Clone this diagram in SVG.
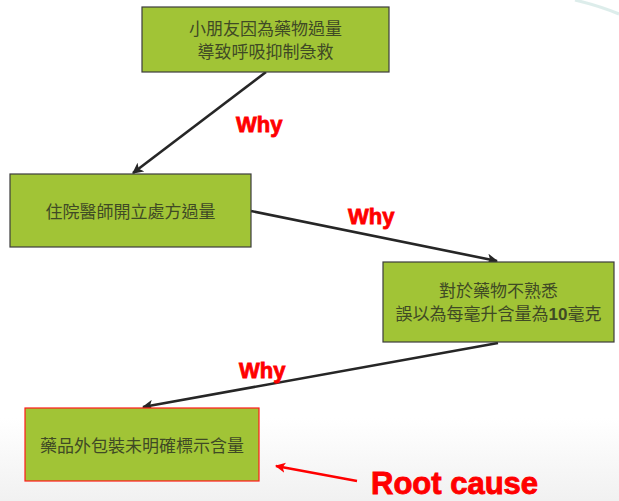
<svg xmlns="http://www.w3.org/2000/svg" width="619" height="501" viewBox="0 0 619 501">
  <style>
    .box { fill: #a1c436; stroke: #3c3c3c; stroke-width: 1.2; }
    .root { fill: #a1c436; stroke: #ff1a1a; stroke-width: 1.2; }
    .lbl { font-family: "Noto Sans CJK TC", "Noto Sans CJK SC", "Liberation Sans", sans-serif; font-size: 17px; fill: #3f4a25; text-anchor: middle; }
    .why { font-family: "Liberation Sans", Arial, sans-serif; font-weight: bold; font-size: 22px; fill: #ff0000; stroke: #ff0000; stroke-width: 0.8; }
    .edge { stroke: #262626; stroke-width: 2.6; fill: none; marker-end: url(#ah); }
  </style>
  <defs>
    <marker id="ah" viewBox="0 0 10 10" refX="9" refY="5" markerWidth="4.2" markerHeight="4.2" orient="auto" markerUnits="strokeWidth">
      <path d="M0,0 L10,5 L0,10 L2.5,5 Z" fill="#262626"/>
    </marker>
    <marker id="ahr" viewBox="0 0 10 10" refX="9" refY="5" markerWidth="4" markerHeight="4" orient="auto" markerUnits="strokeWidth">
      <path d="M0,0 L10,5 L0,10 L2.5,5 Z" fill="#ff0000"/>
    </marker>
    <linearGradient id="floor" x1="0" y1="0" x2="0" y2="1">
      <stop offset="0" stop-color="#ffffff"/>
      <stop offset="1" stop-color="#f1f1f1"/>
    </linearGradient>
  </defs>

  <!-- page background -->
  <rect x="0" y="0" width="619" height="501" fill="#ffffff"/>
  <rect x="0" y="418" width="619" height="83" fill="url(#floor)"/>
  <path d="M575,0 Q600,6 619,14" stroke="#cfe6e2" stroke-width="3" fill="none" opacity="0.7"/>

  <!-- connectors -->
  <g id="connectors">
    <line class="edge" x1="266" y1="72" x2="133" y2="173"/>
    <line class="edge" x1="251" y1="211" x2="497" y2="261"/>
    <line class="edge" x1="498" y1="343" x2="143" y2="407"/>
    <line x1="357" y1="481" x2="276" y2="466" stroke="#ff0000" stroke-width="2.6" marker-end="url(#ahr)"/>
  </g>

  <!-- connector labels -->
  <g id="why-labels">
    <text class="why" x="236" y="132">Why</text>
    <text class="why" x="348" y="224">Why</text>
    <text class="why" x="239" y="378">Why</text>
  </g>

  <g id="n1">
    <rect class="box" x="142" y="7" width="247" height="65"/>
    <text class="lbl" x="265.5" y="35">小朋友因為藥物過量</text>
    <text class="lbl" x="265.5" y="58">導致呼吸抑制急救</text>
  </g>

  <g id="n2">
    <rect class="box" x="10" y="174" width="241" height="73"/>
    <text class="lbl" x="130.5" y="218">住院醫師開立處方過量</text>
  </g>

  <g id="n3">
    <rect class="box" x="383" y="262" width="231" height="80"/>
    <text class="lbl" x="498.5" y="297">對於藥物不熟悉</text>
    <text class="lbl" x="498.5" y="320">誤以為每毫升含量為<tspan font-family="Liberation Sans, sans-serif" font-weight="bold">10</tspan>毫克</text>
  </g>

  <g id="n4">
    <rect class="root" x="25" y="408" width="234" height="73"/>
    <text class="lbl" x="142" y="452">藥品外包裝未明確標示含量</text>
  </g>

  <g id="root-cause">
    <text x="371" y="494" font-family="Liberation Sans, Arial, sans-serif" font-weight="bold" font-size="31" fill="#ff0000" stroke="#ff0000" stroke-width="0.9">Root cause</text>
  </g>
</svg>
